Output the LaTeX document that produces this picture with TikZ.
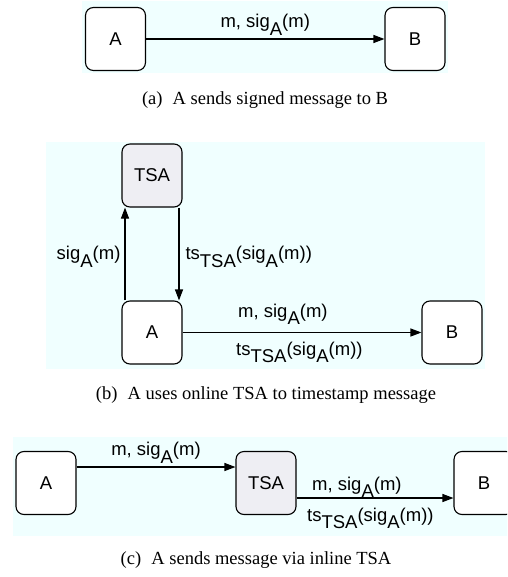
\documentclass[tikz,border=0pt]{standalone}
\usepackage{fontspec}
\setmainfont{Liberation Serif}
\setsansfont{Liberation Sans}
\usetikzlibrary{arrows.meta}

\definecolor{panelbg}{RGB}{240,255,255}
\definecolor{tsafill}{RGB}{238,238,243}

% lowered subscript, kept at full size
\newcommand{\lowsub}[1]{\raisebox{-0.42em}{#1}}

\tikzset{
  x=1pt, y=-1pt,
  party/.style={draw=black, line width=1.1pt, rounded corners=8pt, fill=white,
    minimum width=60pt, minimum height=63pt, inner sep=0pt,
    font=\sffamily\fontsize{18.5}{20}\selectfont},
  tsabox/.style={party, fill=tsafill},
  msg/.style={draw=black, line width=1.1pt, -{Triangle[length=11pt,width=8pt]}},
  lbl/.style={font=\sffamily\fontsize{18.5}{20}\selectfont, inner sep=0pt},
  caption/.style={font=\fontsize{18.5}{21}\selectfont, inner sep=0pt},
  panel/.style={fill=panelbg, draw=none}
}

\begin{document}
\begin{tikzpicture}
\useasboundingbox (0,0) rectangle (507,577);
\clip (0,0) rectangle (507,577);

% ---- (a) direct signed message ----
\fill[panel] (82,1) rectangle (448,73);
\node[party] (aA) at (115.5,39) {A};
\node[party] (aB) at (415,39) {B};
\draw[msg] (aA) -- node[lbl, above=3pt] (aL) {m, sig\lowsub{A}(m)} (aB);
\node[caption] (capa) at (265,100) {(a)\hspace{0.55em}A sends signed message to B};

% ---- (b) online TSA ----
\fill[panel] (46,142) rectangle (485,369);
\node[tsabox] (bT) at (152,175.5) {TSA};
\node[party] (bA) at (152,332.5) {A};
\node[party] (bB) at (452,332.5) {B};
\draw[msg] ([xshift=-27pt]bA.north) -- ([xshift=-27pt]bT.south)
  node[lbl, pos=0.5, anchor=east, xshift=-4pt, yshift=-3pt] (bL1) {sig\lowsub{A}(m)};
\draw[msg] ([xshift=27pt]bT.south) -- ([xshift=27pt]bA.north)
  node[lbl, pos=0.5, anchor=west, xshift=6pt, yshift=-3pt] (bL2) {ts\lowsub{TSA}(sig\lowsub{A}(m))};
\draw[msg] (bA) -- (bB);
\node[lbl, anchor=south west] (bL3) at (238,325) {m, sig\lowsub{A}(m)};
\node[lbl, anchor=base west] (bL4) at (236,355) {ts\lowsub{TSA}(sig\lowsub{A}(m))};
\node[caption] (capb) at (266,395) {(b)\hspace{0.55em}A uses online TSA to timestamp message};

% ---- (c) inline TSA ----
\fill[panel] (13,437) rectangle (510,536);
\node[party] (cA) at (46,483) {A};
\node[tsabox] (cT) at (266,483) {TSA};
\node[party] (cB) at (484,483) {B};
\draw[msg] ([yshift=16pt]cA.east) -- ([yshift=16pt]cT.west)
  node[lbl, pos=0.5, above=3pt] (cL1) {m, sig\lowsub{A}(m)};
\draw[msg] ([yshift=-15pt]cT.east) -- ([yshift=-15pt]cB.west);
\node[lbl, anchor=base west] (cL2) at (312,490) {m, sig\lowsub{A}(m)};
\node[lbl, anchor=base west] (cL3) at (307,521) {ts\lowsub{TSA}(sig\lowsub{A}(m))};
\node[caption] (capc) at (256,560) {(c)\hspace{0.55em}A sends message via inline TSA};
\end{tikzpicture}
\end{document}
